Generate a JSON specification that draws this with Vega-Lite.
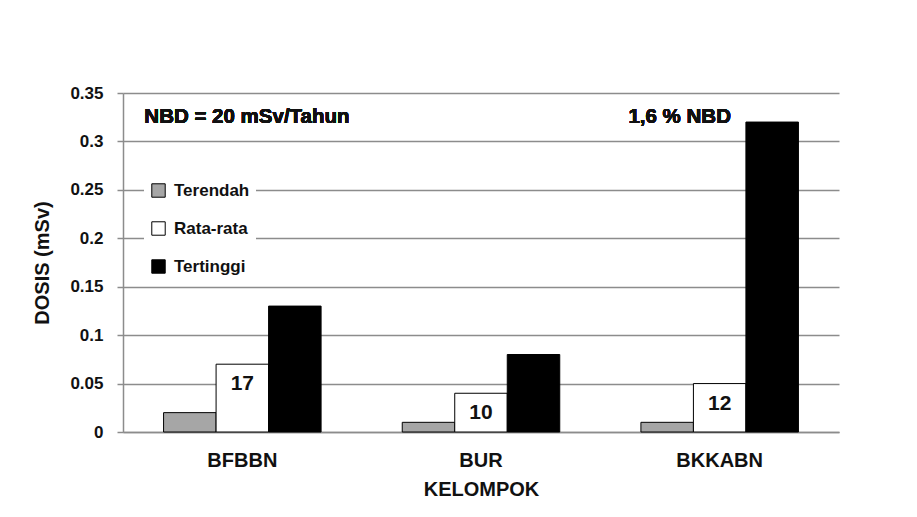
{
  "$schema": "https://vega.github.io/schema/vega-lite/v6.json",
  "width": 716,
  "height": 339,
  "autosize": {"type": "none"},
  "padding": {"left": 123, "top": 93, "right": 78, "bottom": 85},
  "background": "white",
  "config": {"view": {"stroke": null}, "font": "Liberation Sans"},
  "data": {
    "values": [
      {"kelompok": "BFBBN", "kategori": "Terendah", "dosis": 0.02},
      {"kelompok": "BFBBN", "kategori": "Rata-rata", "dosis": 0.07, "jumlah": "17"},
      {"kelompok": "BFBBN", "kategori": "Tertinggi", "dosis": 0.13},
      {"kelompok": "BUR", "kategori": "Terendah", "dosis": 0.01},
      {"kelompok": "BUR", "kategori": "Rata-rata", "dosis": 0.04, "jumlah": "10"},
      {"kelompok": "BUR", "kategori": "Tertinggi", "dosis": 0.08},
      {"kelompok": "BKKABN", "kategori": "Terendah", "dosis": 0.01},
      {"kelompok": "BKKABN", "kategori": "Rata-rata", "dosis": 0.05, "jumlah": "12"},
      {"kelompok": "BKKABN", "kategori": "Tertinggi", "dosis": 0.32}
    ]
  },
  "layer": [
    {
      "mark": {"type": "bar", "stroke": "#000000", "strokeWidth": 1},
      "encoding": {
        "x": {
          "field": "kelompok",
          "type": "nominal",
          "sort": ["BFBBN", "BUR", "BKKABN"],
          "scale": {"paddingInner": 0.34, "paddingOuter": 0.17},
          "axis": {
            "title": "KELOMPOK",
            "labelAngle": 0,
            "ticks": false,
            "grid": false,
            "domain": true,
            "domainColor": "#8c8c8c",
            "domainWidth": 1.5,
            "labelPadding": 18,
            "labelFont": "Liberation Sans",
            "labelFontSize": 20,
            "labelFontWeight": "bold",
            "labelColor": "#111111",
            "titleFont": "Liberation Sans",
            "titleFontSize": 20,
            "titleFontWeight": "bold",
            "titleColor": "#111111",
            "titlePadding": 9
          }
        },
        "xOffset": {
          "field": "kategori",
          "type": "nominal",
          "scale": {"domain": ["Terendah", "Rata-rata", "Tertinggi"], "paddingInner": 0, "paddingOuter": 0}
        },
        "y": {
          "field": "dosis",
          "type": "quantitative",
          "scale": {"domain": [0, 0.35], "nice": false},
          "axis": {
            "values": [0, 0.05, 0.1, 0.15, 0.2, 0.25, 0.3, 0.35],
            "format": ".2~f",
            "title": "DOSIS (mSv)",
            "grid": true,
            "gridColor": "#8c8c8c",
            "gridWidth": 1.5,
            "domainColor": "#8c8c8c",
            "domainWidth": 1.5,
            "tickColor": "#8c8c8c",
            "tickWidth": 1.5,
            "tickSize": 6,
            "labelPadding": 14,
            "labelFont": "Liberation Sans",
            "labelFontSize": 17,
            "labelFontWeight": "bold",
            "labelColor": "#111111",
            "titleFont": "Liberation Sans",
            "titleFontSize": 20,
            "titleFontWeight": "bold",
            "titleColor": "#111111",
            "titlePadding": 17
          }
        },
        "fill": {
          "field": "kategori",
          "type": "nominal",
          "scale": {"domain": ["Terendah", "Rata-rata", "Tertinggi"], "range": ["#a6a6a6", "#ffffff", "#000000"]},
          "legend": {
            "orient": "none",
            "legendX": 21,
            "legendY": 83,
            "title": null,
            "fillColor": "white",
            "padding": 6,
            "symbolType": "square",
            "symbolSize": 180,
            "symbolStrokeColor": "#000000",
            "symbolStrokeWidth": 1,
            "labelFont": "Liberation Sans",
            "labelFontSize": 17,
            "labelFontWeight": "bold",
            "labelColor": "#111111",
            "labelOffset": 7,
            "rowPadding": 19
          }
        }
      }
    },
    {
      "transform": [{"filter": "datum.kategori === 'Rata-rata'"}],
      "mark": {"type": "text", "baseline": "middle", "align": "center", "dy": 20, "font": "Liberation Sans", "fontWeight": "bold", "fontSize": 21, "color": "#111111"},
      "encoding": {
        "x": {"field": "kelompok", "type": "nominal", "sort": ["BFBBN", "BUR", "BKKABN"]},
        "xOffset": {"field": "kategori", "type": "nominal", "scale": {"domain": ["Terendah", "Rata-rata", "Tertinggi"]}},
        "y": {"field": "dosis", "type": "quantitative"},
        "text": {"field": "jumlah"}
      }
    },
    {
      "mark": {"type": "text", "text": "NBD = 20 mSv/Tahun", "align": "left", "baseline": "middle", "dx": -98, "font": "Liberation Sans", "fontWeight": "bold", "fontSize": 20.5, "color": "#111111"},
      "encoding": {
        "x": {"datum": "BFBBN", "type": "nominal"},
        "y": {"datum": 0.325, "type": "quantitative"}
      }
    },
    {
      "mark": {"type": "text", "text": "1,6 % NBD", "align": "center", "baseline": "middle", "dx": -40, "font": "Liberation Sans", "fontWeight": "bold", "fontSize": 20.5, "color": "#111111"},
      "encoding": {
        "x": {"datum": "BKKABN", "type": "nominal"},
        "y": {"datum": 0.325, "type": "quantitative"}
      }
    }
  ]
}
